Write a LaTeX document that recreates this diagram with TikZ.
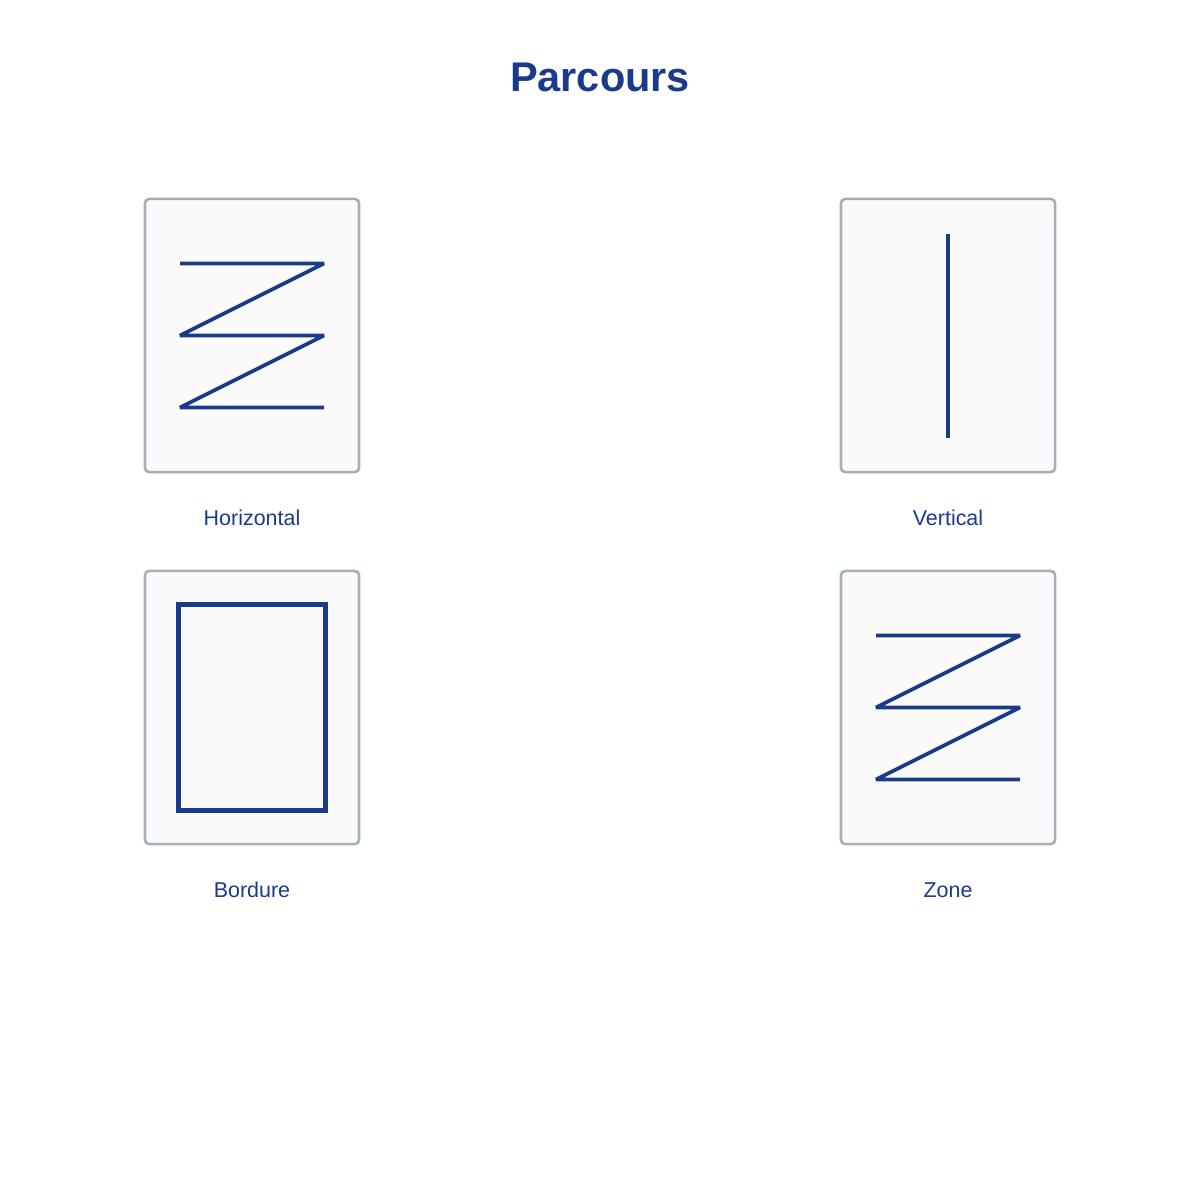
\documentclass[tikz,border=0pt]{standalone}
\usepackage{fontspec}
\setmainfont{Liberation Sans}
\definecolor{navy}{HTML}{1B3A8C}
\definecolor{edgegrey}{HTML}{A3B0B9}
\definecolor{panelfill}{HTML}{FAFAFA}
\tikzset{
  panel/.style={draw=edgegrey, fill=panelfill, line width=0.75pt, rounded corners=1.2pt,
    minimum width=2.14cm, minimum height=2.73cm, inner sep=0pt},
  trace/.style={draw=navy, line width=1.05pt, line join=bevel},
  caption/.style={text=navy, font=\fontsize{6.1pt}{7pt}\selectfont, inner sep=0pt},
}
\begin{document}
\begin{tikzpicture}[x=0.01cm, y=-0.01cm]
        \useasboundingbox (0,0) rectangle (1200,1200);

        \node[text=navy, font=\fontsize{11.8pt}{14pt}\selectfont\bfseries] (title) at (600,77) {Parcours};

        \node[panel] (h) at (252,335.5) {};
        \node[panel] (v) at (948,335.5) {};
        \node[panel] (b) at (252,707.5) {};
        \node[panel] (z) at (948,707.5) {};

        \node[caption] (hl) at (252,518) {Horizontal};
        \node[caption] (vl) at (948,518) {Vertical};
        \node[caption] (bl) at (252,890) {Bordure};
        \node[caption] (zl) at (948,890) {Zone};

        % motifs inside the panels
        \draw[trace, shift={(h.center)}] (-72,-72) -- (72,-72) -- (-72,0) -- (72,0) -- (-72,72) -- (72,72);
        \draw[trace, shift={(v.center)}] (0,-102) -- (0,102);
        \draw[trace, line width=1.15pt, line join=miter, shift={(b.center)}] (-73.5,-103) rectangle (73.5,103);
        \draw[trace, shift={(z.center)}] (-72,-72) -- (72,-72) -- (-72,0) -- (72,0) -- (-72,72) -- (72,72);
      \end{tikzpicture}
\end{document}
